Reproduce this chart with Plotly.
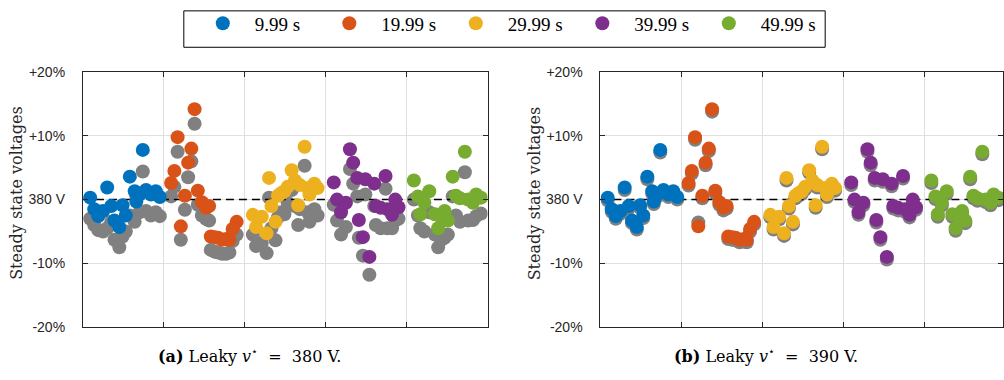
import plotly.graph_objects as go

# Group order and legend labels (time instants)
labels = ["9.99 s", "19.99 s", "29.99 s", "39.99 s", "49.99 s"]
colors = ["#0072BD", "#D95319", "#EDB120", "#7E2F8E", "#77AC30"]
gray = "#808080"

# Position of each sample inside its group (fraction of the group width)
pos_blue = [0.09, 0.14, 0.19, 0.25, 0.30, 0.35, 0.39, 0.45, 0.49, 0.53, 0.58, 0.64, 0.66, 0.70, 0.74, 0.78, 0.84, 0.90, 0.95]
pos_orange = [0.09, 0.13, 0.17, 0.21, 0.26, 0.30, 0.34, 0.38, 0.42, 0.47, 0.52, 0.56, 0.58, 0.63, 0.67, 0.72, 0.77, 0.81, 0.85, 0.90]
pos_yellow = [0.10, 0.14, 0.21, 0.27, 0.30, 0.33, 0.38, 0.41, 0.45, 0.49, 0.53, 0.58, 0.62, 0.66, 0.68, 0.74, 0.78, 0.80, 0.86, 0.90]
pos_purple = [0.10, 0.14, 0.19, 0.25, 0.30, 0.34, 0.39, 0.41, 0.46, 0.49, 0.54, 0.60, 0.62, 0.68, 0.74, 0.76, 0.82, 0.86, 0.90]
pos_green = [0.09, 0.14, 0.17, 0.22, 0.28, 0.35, 0.39, 0.43, 0.47, 0.51, 0.57, 0.61, 0.66, 0.72, 0.76, 0.82, 0.86, 0.92]

# Steady-state voltage deviation (%) with the leaky controller
v_blue = [0.3, -1.5, -2.6, -1.8, 1.9, -1.0, -3.3, -4.3, -0.9, -2.5, 3.6, 1.3, -0.3, 0.8, 7.8, 1.5, 0.8, 1.3, 0.4]
v_orange = [2.6, 4.5, 9.8, -4.2, 0.6, 5.8, 8.0, 14.2, 1.4, -0.4, -1.3, -1.0, -5.8, -5.9, -6.0, -6.3, -6.2, -6.3, -4.6, -3.5]
v_yellow = [-2.4, -4.3, -2.7, -5.3, 3.4, -1.0, -3.5, 0.6, 1.0, 1.3, 2.0, 4.6, 3.0, -0.9, 2.3, 8.3, 1.8, 0.8, 2.5, 1.8]
v_purple = [2.7, 0.0, -2.0, -0.5, 7.9, 5.8, 3.4, -3.2, -5.9, 3.2, -9.0, 2.5, -1.0, -1.3, 3.7, -1.5, -2.4, 0.0, -1.2]
v_green = [3.0, 0.5, -2.3, -0.5, 1.3, -2.3, -4.5, -2.8, -1.8, -3.3, 3.6, 0.6, 0.2, 7.5, 0.0, -0.5, 0.8, 0.3]

# Reference deviation (%) for v* = 380 V
ref380_blue = [-3.0, -4.0, -4.8, -5.0, -4.5, -3.5, -6.3, -7.5, -5.8, -5.0, -2.5, -3.5, 0.5, -2.0, 4.4, -1.8, -2.5, -2.0, -2.6]
ref380_orange = [0.5, 2.0, 7.5, -6.3, -1.6, 3.5, 6.0, 11.9, -0.8, -2.5, -3.0, -3.3, -7.9, -8.2, -8.3, -8.5, -8.5, -8.3, -6.5, -5.5]
ref380_yellow = [-5.5, -7.3, -6.8, -8.4, 0.3, -4.5, -6.4, -2.8, -2.0, -2.3, -0.5, 1.5, -1.0, -4.0, -1.5, 5.3, -2.0, -3.5, -1.5, -2.5]
ref380_purple = [-0.8, -3.3, -5.5, -4.3, 4.8, 2.5, 0.5, -6.0, -8.8, 0.8, -11.8, -1.0, -4.0, -4.5, 1.7, -4.5, -4.5, -3.3, -3.0]
ref380_green = [0.0, -2.5, -4.5, -5.0, -2.0, -5.5, -7.5, -6.3, -6.0, -5.5, 0.5, -2.5, -3.5, 4.3, -3.3, -3.2, -2.6, -2.2]

# Reference deviation (%) for v* = 390 V
ref390_blue = [-0.1, -1.9, -3.0, -2.2, 1.5, -1.4, -3.7, -4.7, -1.3, -2.9, 3.2, 0.9, -0.7, 0.4, 7.4, 1.1, 0.4, 0.9, 0.0]
ref390_orange = [2.2, 4.1, 9.4, -3.6, 0.2, 5.4, 7.6, 13.8, 1.0, -0.8, -1.7, -1.4, -6.2, -6.3, -6.4, -6.7, -6.6, -6.7, -5.0, -3.9]
ref390_yellow = [-2.8, -4.7, -3.1, -5.7, 3.0, -1.4, -3.9, 0.2, 0.6, 0.9, 1.6, 4.2, 2.6, -1.3, 1.9, 7.9, 1.4, 0.4, 2.1, 1.4]
ref390_purple = [2.3, -0.4, -2.4, -0.9, 7.5, 5.4, 3.0, -3.6, -6.3, 2.8, -9.4, 2.1, -1.4, -1.7, 3.3, -1.9, -2.8, -0.4, -1.6]
ref390_green = [2.6, 0.1, -2.7, -0.9, 0.9, -2.7, -4.9, -3.2, -2.2, -3.7, 3.2, 0.2, -0.2, 7.1, -0.4, -0.9, 0.4, -0.1]

# Y-axis ticks
ytick_vals = [-20, -10, 0, 10, 20]
ytick_text = ["-20%", "-10%", "380 V", "+10%", "+20%"]

positions = [pos_blue, pos_orange, pos_yellow, pos_purple, pos_green]
values = [v_blue, v_orange, v_yellow, v_purple, v_green]
refs = {
    1: [ref380_blue, ref380_orange, ref380_yellow, ref380_purple, ref380_green],
    2: [ref390_blue, ref390_orange, ref390_yellow, ref390_purple, ref390_green],
}

MS = 14
W, H = 1004, 380
fig = go.Figure()

for panel in (1, 2):
    xa = "x" if panel == 1 else "x2"
    ya = "y" if panel == 1 else "y2"
    # gray reference markers underneath
    for g in range(5):
        fig.add_trace(go.Scatter(
            x=[g + p for p in positions[g]], y=refs[panel][g],
            mode="markers", marker=dict(size=MS, color=gray),
            xaxis=xa, yaxis=ya, showlegend=False, hoverinfo="skip"))
    # nominal voltage line
    fig.add_trace(go.Scatter(
        x=[0, 5], y=[0, 0], mode="lines",
        line=dict(color="black", width=1.5, dash="8px,5px"),
        xaxis=xa, yaxis=ya, showlegend=False, hoverinfo="skip"))
    # coloured markers on top
    for g in range(5):
        fig.add_trace(go.Scatter(
            x=[g + p for p in positions[g]], y=values[g],
            mode="markers", marker=dict(size=MS, color=colors[g]),
            name=labels[g], legendgroup=labels[g],
            xaxis=xa, yaxis=ya, showlegend=(panel == 1)))

axis_common = dict(
    showline=True, linecolor="#262626", linewidth=1, mirror="ticks",
    ticks="inside", ticklen=5, tickcolor="#262626",
    showgrid=True, gridcolor="#dfdfdf", gridwidth=1, zeroline=False,
)
ydom = [1 - 333 / H, 1 - 67 / H]
tickfont = dict(family="Liberation Sans, Arial, sans-serif", size=14, color="#262626")

fig.update_layout(
    width=W, height=H, autosize=False,
    margin=dict(l=0, r=0, t=0, b=0),
    paper_bgcolor="white", plot_bgcolor="white",
    xaxis=dict(domain=[83 / W, 488 / W], range=[0, 5], tickvals=[1, 2, 3, 4],
               showticklabels=False, anchor="y", **axis_common),
    yaxis=dict(domain=ydom, range=[-20, 20], tickvals=ytick_vals, ticktext=ytick_text,
               tickfont=tickfont, anchor="x", ticklabelstandoff=14, **axis_common),
    xaxis2=dict(domain=[601 / W, 1.0], range=[0, (W - 601) / 81], tickvals=[1, 2, 3, 4],
                showticklabels=False, anchor="y2", **axis_common),
    yaxis2=dict(domain=ydom, range=[-20, 20], tickvals=ytick_vals, ticktext=ytick_text,
                tickfont=tickfont, anchor="x2", ticklabelstandoff=14, **axis_common),
    legend=dict(
        orientation="h", x=191 / W, y=1 - 16 / H, xanchor="left", yanchor="middle",
        bgcolor="rgba(0,0,0,0)", borderwidth=0,
        font=dict(family="Liberation Serif, serif", size=19, color="black"),
        itemwidth=54, entrywidth=57.5, entrywidthmode="pixels",
        itemclick=False, itemdoubleclick=False,
    ),
    showlegend=True,
)

# legend frame
fig.add_shape(type="rect", xref="paper", yref="paper",
              x0=184 / W, x1=826 / W, y0=1 - 41 / H, y1=1 - 3 / H,
              line=dict(color="black", width=1), fillcolor="white", layer="below")

serif = "DejaVu Serif, serif"
for xc in (17, 535):
    fig.add_annotation(
        text="Steady state voltages", textangle=-90,
        x=xc / W, y=1 - 193 / H, xref="paper", yref="paper",
        showarrow=False, font=dict(family=serif, size=16, color="#262626"),
        xanchor="center", yanchor="middle")

captions = [("<b>(a)</b> Leaky <i>v</i><sup>⋆</sup>\u00a0\u00a0=\u00a0\u00a0380\u00a0V.", 250),
            ("<b>(b)</b> Leaky <i>v</i><sup>⋆</sup>\u00a0\u00a0=\u00a0\u00a0390\u00a0V.", 767)]
for txt, xc in captions:
    fig.add_annotation(
        text=txt, x=xc / W, y=1 - 363 / H, xref="paper", yref="paper",
        showarrow=False, font=dict(family=serif, size=16, color="black"),
        xanchor="center", yanchor="middle")

fig.write_html("out.html")
